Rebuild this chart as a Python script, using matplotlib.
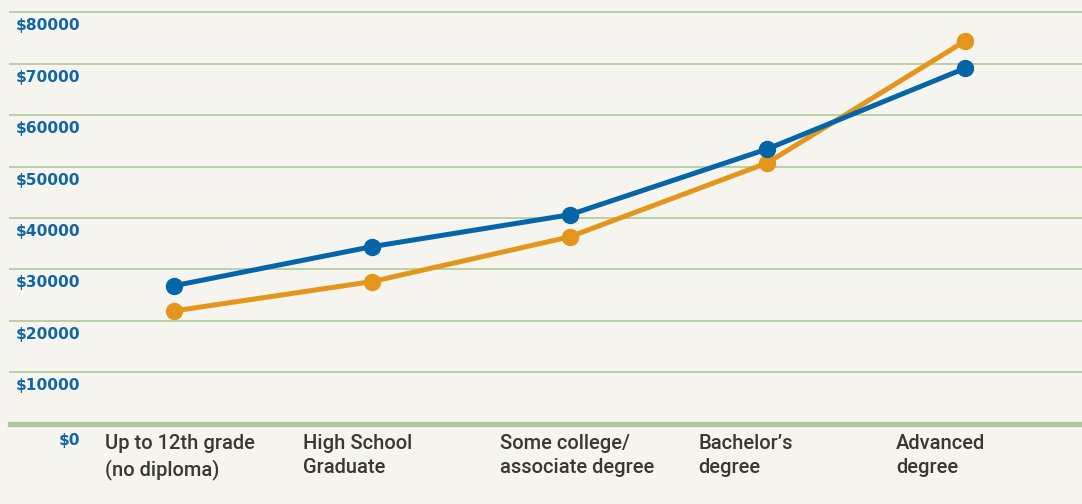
import matplotlib
matplotlib.use("Agg")
import matplotlib.pyplot as plt
import matplotlib.transforms as mtransforms
from matplotlib import font_manager

# education level vs median earnings
categories = ["Up to 12th grade\n(no diploma)", "High School\nGraduate",
              "Some college/\nassociate degree", "Bachelor\u2019s\ndegree",
              "Advanced\ndegree"]
blue_vals = [26800, 34400, 40600, 53400, 69100]
orange_vals = [21900, 27600, 36300, 50700, 74400]
yticks = [0, 10000, 20000, 30000, 40000, 50000, 60000, 70000, 80000]
ytick_labels = ["$0", "$10000", "$20000", "$30000", "$40000",
                "$50000", "$60000", "$70000", "$80000"]

bg = "#f5f4ef"
grid_col = "#b9d1a6"
blue = "#0565a8"
orange = "#e3961b"
label_blue = "#1266a6"
text_col = "#3b3733"

names = {f.name for f in font_manager.fontManager.ttflist}
narrow = "Roboto" if "Roboto" in names else "DejaVu Sans"

W, H = 1082, 504
fig = plt.figure(figsize=(W / 100, H / 100), dpi=100, facecolor=bg)

y0_px, ytop_px = 423.5, 12.3
left_px = 10
ax = fig.add_axes([left_px / W, 1 - y0_px / H, (W - left_px) / W, (y0_px - ytop_px) / H])
ax.set_facecolor(bg)

x = list(range(len(categories)))
step = 197.75
first_px = 174
ax.set_xlim((left_px - first_px) / step, (W - first_px) / step)
ax.set_ylim(0, 80000)

for v in yticks[1:]:
    ax.axhline(v, color=grid_col, lw=1.4, zorder=1, clip_on=False)
ax.axhline(0, color="#adc89a", lw=3.8, zorder=1, clip_on=False)

ax.plot(x, orange_vals, color=orange, lw=3.6, marker="o", ms=11.5,
        solid_capstyle="round", zorder=3)
ax.plot(x, blue_vals, color=blue, lw=3.6, marker="o", ms=11.5,
        solid_capstyle="round", zorder=4)

for s in ax.spines.values():
    s.set_visible(False)
ax.set_xticks([])
ax.set_yticks([])

# y labels sit just under each gridline, right-aligned
trans = mtransforms.blended_transform_factory(fig.transFigure, ax.transData)
for v, lab in zip(yticks, ytick_labels):
    dy = -9 if v == 0 else -6
    ax.text(80 / W, v, lab, transform=mtransforms.offset_copy(trans, fig=fig, y=dy, units="dots"),
            ha="right", va="top", fontsize=11.2, fontweight="bold", color=label_blue)

# category labels under the baseline
for i, cat in enumerate(categories):
    fig.text((first_px + i * step - 69) / W, 1 - 434 / H, cat, ha="left", va="top",
             fontsize=14.5, family=narrow, fontweight="medium", color=text_col,
             linespacing=1.35)

fig.savefig("out.png", dpi=100, facecolor=bg)
